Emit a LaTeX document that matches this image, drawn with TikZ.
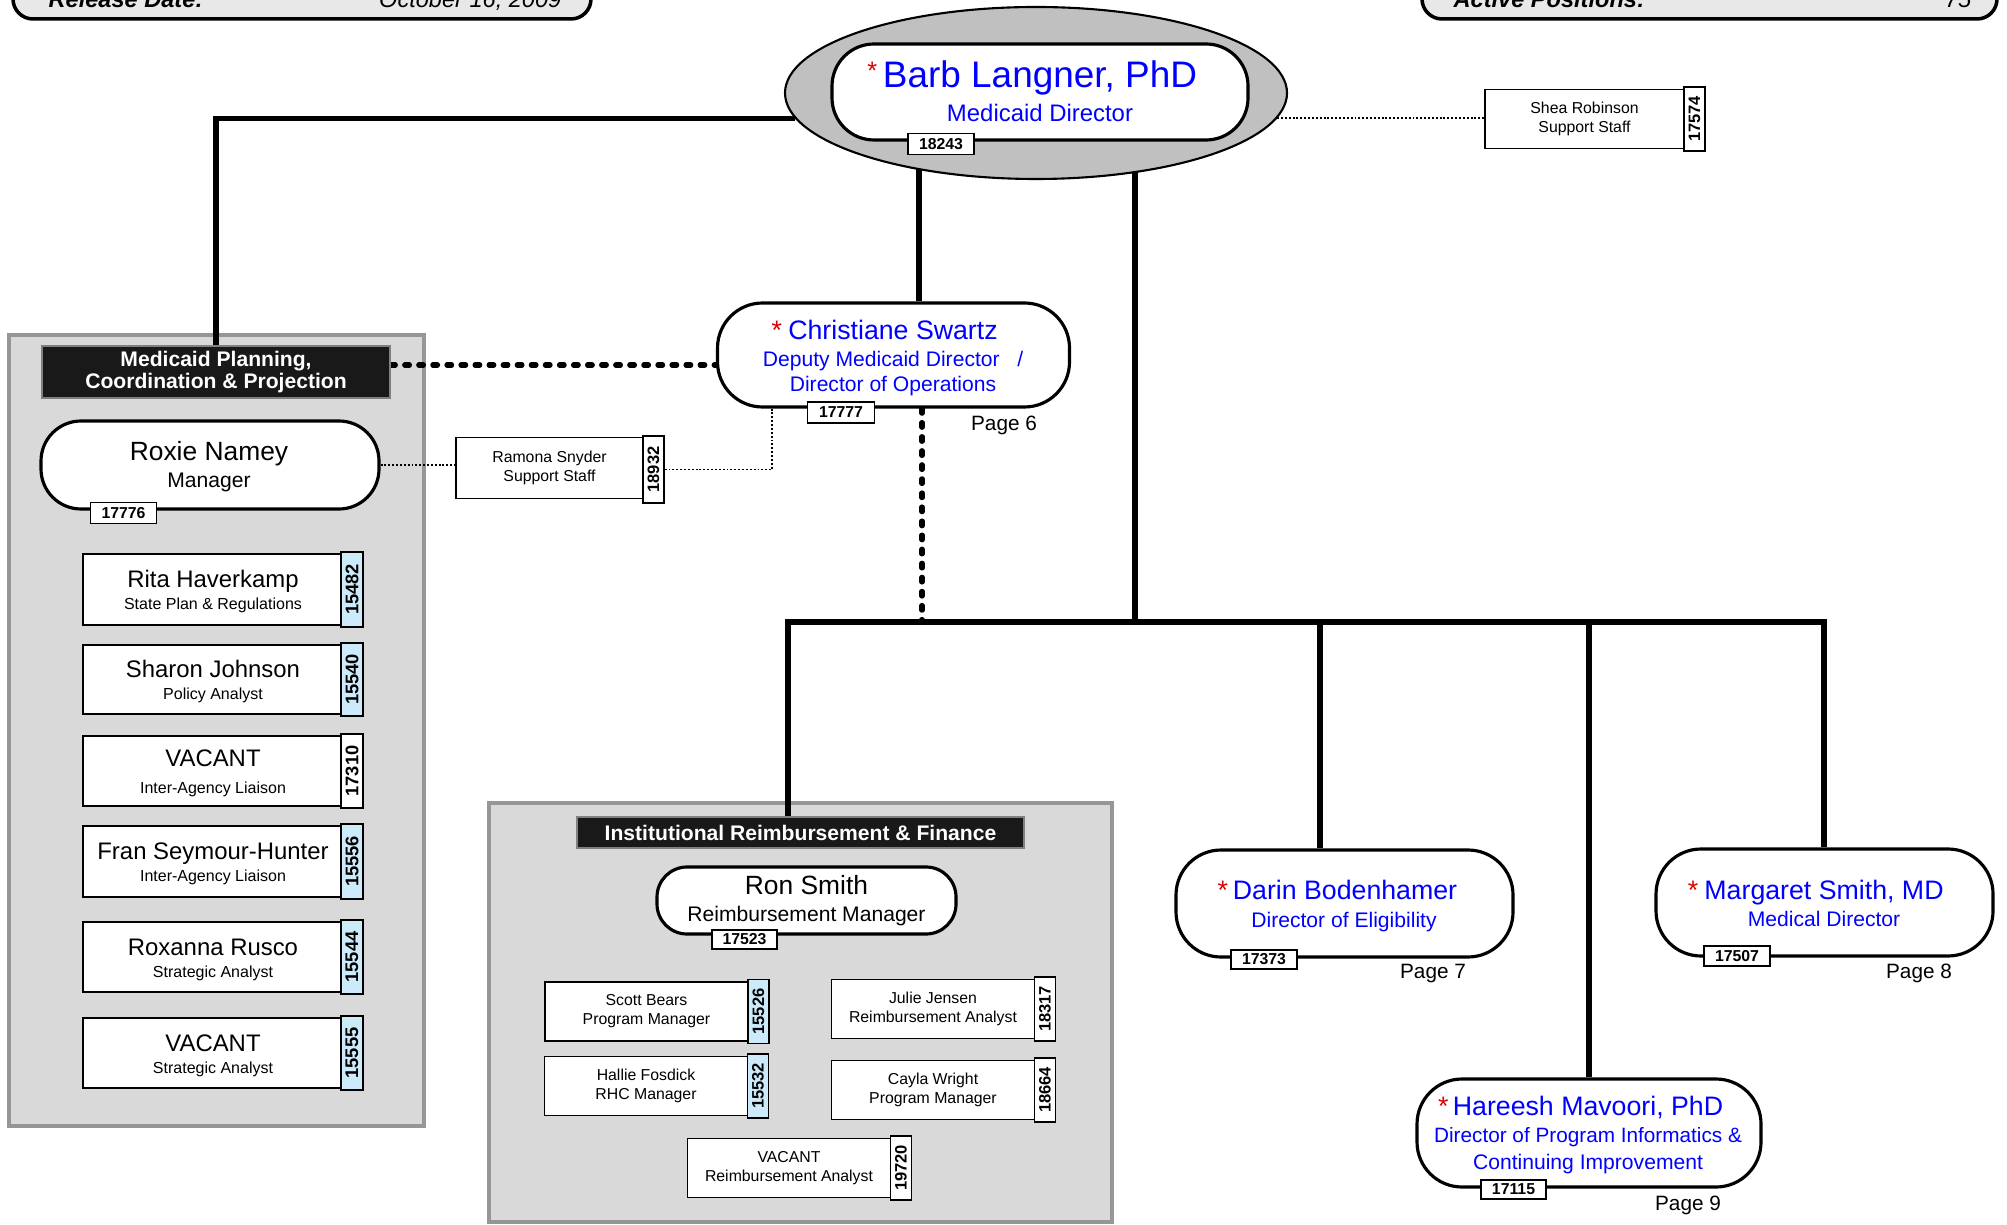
\documentclass[tikz,border=0pt]{standalone}
\usepackage{fontspec}
\setmainfont{Liberation Sans}
\usepackage{graphicx}
\usetikzlibrary{shapes.geometric}
\pgfdeclarelayer{panels}
\pgfdeclarelayer{links}
\pgfsetlayers{panels,links,main}
\definecolor{nblue}{RGB}{0,0,255}
\definecolor{nred}{RGB}{220,0,0}
\definecolor{tabblue}{RGB}{204,234,250}
\definecolor{panelgray}{RGB}{217,217,217}
\definecolor{panelline}{RGB}{150,150,150}
\definecolor{ellgray}{RGB}{192,192,192}
\definecolor{hdrgray}{RGB}{232,232,232}
\newcommand\setfs[2]{\fontsize{#1}{#2}\selectfont}
\newcommand\leftcard[9]{%
 \node[card,sz={258}{#3}] (#1) at (212,#2) {};
 \node[#4,sz={22}{#3+4}] (#1tab) at (352,#2) {\rotatebox{90}{\setfs{5.2}{6}\bfseries #5}};
 \node[txt,font=\setfs{6.8}{8}] (#1n) at (213,#2+#8) {#6};
 \node[txt,font=\setfs{4.55}{5}] (#1s) at (213,#2+#9) {#7};}
\newcommand\smallcard[8]{%
 \node[card,sz={#8}{59},align=center,font=\setfs{4.5}{5.4}] (#1) at (#2,#3) {#6\\#7};
 \node[#4,sz={21}{64}] (#1tab) at (#2+#8/2+10.5,#3) {\rotatebox{90}{\setfs{4.7}{5.5}\bfseries #5}};}
\begin{document}
\begin{tikzpicture}[x=0.01cm,y=-0.01cm,
 sz/.style 2 args={minimum width=(#1)*0.01cm,minimum height=(#2)*0.01cm},
 conn/.style={line width=1.5pt},
 dashconn/.style={line width=1.5pt,dash pattern=on 1.3pt off 2.7pt,line cap=round},
 dotconn/.style={line width=0.55pt,dash pattern=on 0.55pt off 0.55pt},
 pill/.style={draw,fill=white,line width=0.9pt,rounded corners=#1,inner sep=0},
 card/.style={draw,fill=white,line width=0.5pt,inner sep=0},
 tabw/.style={draw,fill=white,line width=0.5pt,inner sep=0},
 tabb/.style={draw,fill=tabblue,line width=0.5pt,inner sep=0},
 htab/.style={draw,fill=white,line width=0.5pt,inner sep=0,font=\setfs{4.5}{5}\bfseries},
 txt/.style={inner sep=0,anchor=base},
 panel/.style={draw=panelline,fill=panelgray,line width=0.9pt,inner sep=0},
 hdr/.style={draw=gray,fill=black!90,text=white,inner sep=0,font=\setfs{6}{6.5}\bfseries,align=center},
 star/.style={inner sep=0,anchor=base east,text=nred},
 pg/.style={inner sep=0,anchor=base,font=\setfs{5.9}{7}}]
\useasboundingbox (0,0) rectangle (2007,1225);
\begin{scope}
\clip (0,0) rectangle (2007,1225);
\node[draw,fill=hdrgray,line width=1pt,rounded corners=0.2cm,inner sep=0,sz={578}{60}] (relbox) at (302,-11) {};
\node[txt,anchor=base west,font=\setfs{6.7}{8}\bfseries\itshape] (rellbl) at (48,8) {Release Date:};
\node[txt,anchor=base east,font=\setfs{6.7}{8}\itshape] (relval) at (562,8) {October 16, 2009};
\node[draw,fill=hdrgray,line width=1pt,rounded corners=0.2cm,inner sep=0,sz={575}{60}] (actbox) at (1709.5,-11) {};
\node[txt,anchor=base west,font=\setfs{6.7}{8}\bfseries\itshape] (actlbl) at (1453,8) {Active Positions:};
\node[txt,anchor=base east,font=\setfs{6.7}{8}\itshape] (actval) at (1972,8) {75};
\end{scope}
\coordinate (c919) at (919,0);
\coordinate (c1135) at (1135,0);
\coordinate (c922) at (922,0);
\coordinate (c772) at (772,0);
\coordinate (c1320) at (1320,0);
\coordinate (c365) at (0,365);
\coordinate (busL) at (788,622);
\coordinate (busR) at (1824,622);
% panels
\begin{pgfonlayer}{panels}
\node[panel,sz={415}{791}] (mpcpanel) at (216.5,730.5) {};
\node[panel,sz={623}{419}] (irfpanel) at (800.5,1012.5) {};
\end{pgfonlayer}
% top director
\node[ellipse,draw,fill=ellgray,line width=0.6pt,inner sep=0,sz={502}{172}] (top) at (1036,93) {};
\node[pill=0.42cm,sz={416}{96}] (barb) at (1040,92) {};
\node[txt,text=nblue,font=\setfs{10.5}{12}] (barbn) at (1040,88) {Barb Langner, PhD};
\node[star,font=\setfs{7.2}{9}] (barbst) at ([xshift=-1.2pt,yshift=2.4pt]barbn.base west) {*};
\node[txt,text=nblue,font=\setfs{6.8}{8}] (barbs) at (1040,122) {Medicaid Director};
\node[htab,sz={66}{21}] (barbtab) at (941,144) {18243};
% Shea
\smallcard{shea}{1584.5}{119}{tabw}{17574}{Shea Robinson}{Support Staff}{199}
% Christiane
\node[pill=0.45cm,sz={352}{104}] (chris) at (893.5,355) {};
\node[txt,text=nblue,font=\setfs{7.6}{9}] (chrisn) at (893,340) {Christiane Swartz};
\node[star,font=\setfs{7.6}{9}] (chrisst) at ([xshift=-1.4pt]chrisn.base west) {*};
\node[txt,text=nblue,font=\setfs{6}{7}] (chriss1) at (893,367) {Deputy Medicaid Director\ \ \ /};
\node[txt,text=nblue,font=\setfs{6}{7}] (chriss2) at (893,392) {Director of Operations};
\node[htab,sz={67}{21}] (christab) at (841,412.5) {17777};
\node[pg] (page6) at (1004,431) {Page 6};
% Medicaid planning panel
\node[hdr,sz={348}{52}] (mpchead) at (216,372) {Medicaid Planning,\\Coordination \& Projection};
\node[pill=0.4cm,sz={338}{88}] (roxie) at (210,465) {};
\node[txt,font=\setfs{7.5}{9}] (roxien) at (209,461) {Roxie Namey};
\node[txt,font=\setfs{6}{7}] (roxies) at (209,488) {Manager};
\node[htab,sz={66}{21}] (roxietab) at (123.5,513) {17776};
\node[card,sz={187}{61},align=center,font=\setfs{4.5}{5.4}] (ramona) at (549.5,468) {Ramona Snyder\\Support Staff};
\node[tabw,sz={21}{67}] (ramtab) at (653.5,469.5) {\rotatebox{90}{\setfs{4.7}{5.5}\bfseries 18932}};
\leftcard{rita}{589.5}{71}{tabb}{15482}{Rita Haverkamp}{State Plan \& Regulations}{-2}{20}
\leftcard{sharon}{679.5}{69}{tabb}{15540}{Sharon Johnson}{Policy Analyst}{-2}{20}
\leftcard{vacil}{771}{70}{tabw}{17310}{VACANT}{Inter-Agency Liaison}{-5}{22}
\leftcard{fran}{861.5}{71}{tabb}{15556}{Fran Seymour-Hunter}{Inter-Agency Liaison}{-2}{20}
\leftcard{roxanna}{957}{70}{tabb}{15544}{Roxanna Rusco}{Strategic Analyst}{-2}{20}
\leftcard{vacsa}{1053}{70}{tabb}{15555}{VACANT}{Strategic Analyst}{-2}{20}
% Institutional panel
\node[hdr,sz={447}{31}] (irfhead) at (800.5,832.5) {Institutional Reimbursement \& Finance};
\node[pill=0.3cm,sz={299}{67}] (ron) at (806.5,900.5) {};
\node[txt,font=\setfs{7.5}{9}] (ronn) at (806.5,894) {Ron Smith};
\node[txt,font=\setfs{6}{7}] (rons) at (806.5,921) {Reimbursement Manager};
\node[htab,sz={65}{19}] (rontab) at (744.5,939.5) {17523};
\smallcard{scott}{646.5}{1011.5}{tabb}{15526}{Scott Bears}{Program Manager}{203}
\smallcard{julie}{933}{1009}{tabw}{18317}{Julie Jensen}{Reimbursement Analyst}{203}
\smallcard{hallie}{646}{1086}{tabb}{15532}{Hallie Fosdick}{RHC Manager}{203}
\smallcard{cayla}{933}{1090}{tabw}{18664}{Cayla Wright}{Program Manager}{203}
\smallcard{vacra}{789}{1168}{tabw}{19720}{VACANT}{Reimbursement Analyst}{203}
% Darin
\node[pill=0.45cm,sz={337}{107}] (darin) at (1344.5,903.5) {};
\node[txt,text=nblue,font=\setfs{7.6}{9}] (darinn) at (1345,899) {Darin Bodenhamer};
\node[star,font=\setfs{7.6}{9}] (darinst) at ([xshift=-1pt]darinn.base west) {*};
\node[txt,text=nblue,font=\setfs{6}{7}] (darins) at (1344,927) {Director of Eligibility};
\node[htab,sz={66}{19}] (darintab) at (1264,959.5) {17373};
\node[pg] (page7) at (1433,978) {Page 7};
% Margaret
\node[pill=0.45cm,sz={337}{107}] (marg) at (1824.5,902.5) {};
\node[txt,text=nblue,font=\setfs{7.6}{9}] (margn) at (1824,899) {Margaret Smith, MD};
\node[star,font=\setfs{7.6}{9}] (margst) at ([xshift=-1.4pt]margn.base west) {*};
\node[txt,text=nblue,font=\setfs{6}{7}] (margs) at (1824,926) {Medical Director};
\node[htab,sz={66}{20}] (margtab) at (1737,956) {17507};
\node[pg] (page8) at (1919,978) {Page 8};
% Hareesh
\node[pill=0.45cm,sz={344}{108}] (hareesh) at (1589,1133) {};
\node[txt,text=nblue,font=\setfs{7.6}{9}] (hareeshn) at (1588,1115) {Hareesh Mavoori, PhD};
\node[star,font=\setfs{7.6}{9}] (hareeshst) at ([xshift=-0.8pt]hareeshn.base west) {*};
\node[txt,text=nblue,font=\setfs{5.9}{7}] (hareeshs1) at (1588,1142) {Director of Program Informatics \&};
\node[txt,text=nblue,font=\setfs{6}{7}] (hareeshs2) at (1588,1169) {Continuing Improvement};
\node[htab,sz={65}{19}] (hareeshtab) at (1513.5,1189.5) {17115};
\node[pg] (page9) at (1688,1210) {Page 9};
% connectors
\begin{pgfonlayer}{links}
\draw[conn] (top.186) -| (mpchead.north);
\draw[conn] (top.center -| c919) -- (chris.north -| c919);
\draw[conn] (top.center -| c1135) -- (busL -| c1135);
\draw[conn] (irfhead.north -| busL) -- (busL) -- (busR) -- (marg.north -| busR);
\draw[conn] (busL -| c1320) -- (darin.north -| c1320);
\draw[conn] (busL -| hareesh.north) -- (hareesh.north);
\draw[dashconn] (chris.south -| c922) -- (busL -| c922);
\draw[dashconn] (mpchead.east |- c365) -- (chris.west |- c365);
\draw[dotconn] (chris.south -| c772) |- (ramtab.east);
\draw[dotconn] (roxie.east) -- (roxie.east -| ramona.west);
\draw[dotconn] (top.354) -- (top.354 -| shea.west);
\end{pgfonlayer}
\end{tikzpicture}
\end{document}
